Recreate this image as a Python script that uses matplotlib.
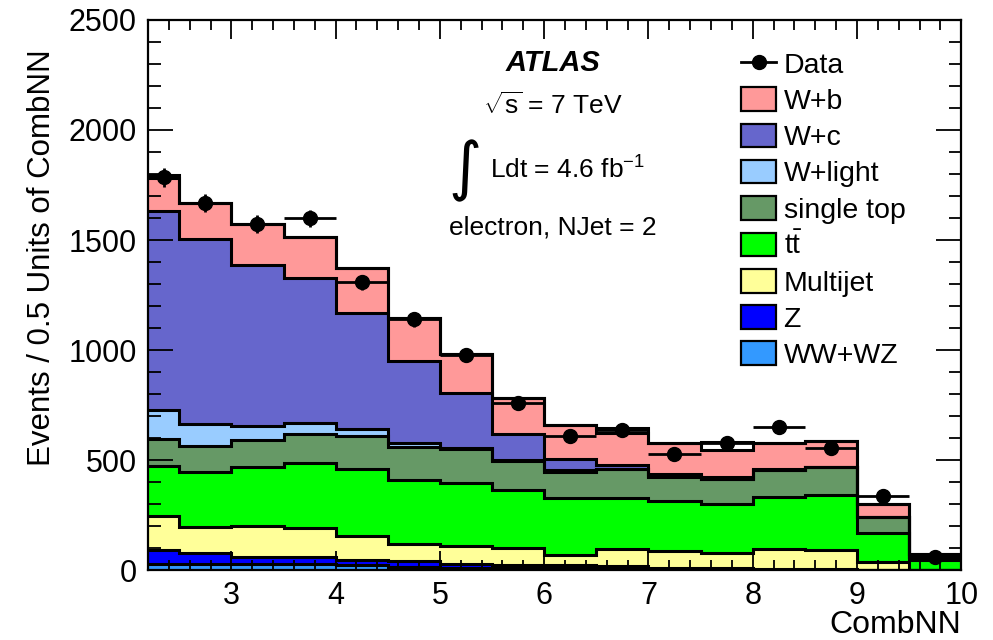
import numpy as np
from matplotlib import pyplot as plt
from matplotlib.lines import Line2D
from matplotlib.patches import Patch
from matplotlib.ticker import MultipleLocator

plt.rcParams['font.family'] = ['Liberation Sans', 'DejaVu Sans']
plt.rcParams['mathtext.fontset'] = 'custom'
plt.rcParams['mathtext.rm'] = 'Liberation Sans'
plt.rcParams['mathtext.it'] = 'Liberation Sans:italic'
plt.rcParams['mathtext.bf'] = 'Liberation Sans:bold'

# CombNN bin edges (first bin clipped at 2.2)
edges = [2.2, 2.5, 3.0, 3.5, 4.0, 4.5, 5.0, 5.5, 6.0, 6.5, 7.0, 7.5, 8.0, 8.5, 9.0, 9.5, 10.0]

# samples, bottom of the stack first
ww_wz = [30, 30, 28, 27, 23, 15, 12, 10, 8, 6, 5, 4, 3, 3, 2, 0]
z_jets = [61, 49, 32, 33, 25, 26, 18, 16, 15, 12, 7, 4, 3, 2, 1, 0]
multijet = [154, 118, 142, 134, 109, 79, 82, 74, 47, 80, 74, 70, 92, 85, 35, 1]
ttbar = [228, 250, 265, 291, 305, 289, 286, 264, 256, 232, 229, 225, 235, 254, 133, 44]
single_top = [125, 118, 124, 136, 147, 152, 152, 133, 118, 128, 109, 111, 122, 123, 71, 13]
w_light = [132, 99, 65, 50, 32, 18, 5, 5, 11, 2, 2, 2, 1, 1, 0, 1]
w_c = [902, 839, 730, 655, 526, 371, 248, 115, 50, 17, 10, 8, 2, 1, 1, 1]
w_b = [148, 167, 187, 186, 204, 194, 177, 166, 154, 147, 140, 121, 122, 119, 60, 16]

# total prediction outline
mc_total = [1795, 1670, 1573, 1512, 1371, 1144, 980, 783, 659, 644, 576, 583, 580, 588, 303, 76]

data = [1785, 1670, 1573, 1598, 1307, 1141, 977, 758, 611, 639, 527, 576, 652, 553, 338, 60]
data_err = [42, 41, 40, 40, 36, 34, 31, 28, 25, 25, 23, 24, 26, 24, 18, 8]

samples = [
    ("W+b", w_b, "#ff9999"),
    ("W+c", w_c, "#6666cc"),
    ("W+light", w_light, "#99ccff"),
    ("single top", single_top, "#669966"),
    (r"$\mathrm{t\bar{t}}$", ttbar, "#00ff00"),
    ("Multijet", multijet, "#ffff99"),
    ("Z", z_jets, "#0000ff"),
    ("WW+WZ", ww_wz, "#3399ff"),
]

fig = plt.figure(figsize=(9.93, 6.4), dpi=100)
ax = fig.add_axes([0.149, 0.109, 0.819, 0.860])

edges = np.array(edges)
centers = 0.5 * (edges[:-1] + edges[1:])
half = 0.5 * np.diff(edges)

ax.stairs(mc_total, edges, baseline=None, color="black", lw=2.2, zorder=1.2)

# cumulative stack, drawn from the top down like ROOT does
heights = [np.array(v, dtype=float) for _, v, _ in samples]
cum = [sum(heights[i:]) for i in range(len(heights))]
for (name, vals, col), top in zip(samples, cum):
    ax.stairs(top, edges, baseline=0, fill=True, facecolor=col, edgecolor="none", zorder=1)
    ax.stairs(top, edges, baseline=None, color="black", lw=2.2, zorder=1.3)

ax.errorbar(centers, data, xerr=half, yerr=data_err, fmt="o", color="black",
            markersize=10, elinewidth=2.0, capsize=0, zorder=3)

ax.set_xlim(2.2, 10)
ax.set_ylim(0, 2500)
ax.xaxis.set_major_locator(MultipleLocator(1))
ax.xaxis.set_minor_locator(MultipleLocator(0.2))
ax.yaxis.set_major_locator(MultipleLocator(500))
ax.yaxis.set_minor_locator(MultipleLocator(100))
ax.set_axisbelow(False)
ax.tick_params(which="both", direction="in", top=True, right=True, width=1.3, labelsize=22)
ax.tick_params(axis="y", which="major", length=18, pad=8)
ax.tick_params(axis="y", which="minor", length=9)
ax.tick_params(axis="x", which="major", length=14, pad=8)
ax.tick_params(axis="x", which="minor", length=7)
for s in ax.spines.values():
    s.set_linewidth(1.6)

fig.text(0.042, 0.598, "Events / 0.5 Units of CombNN", rotation=90,
         ha="center", va="center", fontsize=22.5)
fig.text(0.968, 0.023, "CombNN", ha="right", va="center", fontsize=23)

ax.text(0.498, 0.922, "ATLAS", transform=ax.transAxes, ha="center", va="center",
        fontsize=21, fontweight="bold", fontstyle="italic")
ax.text(0.498, 0.845, r"$\sqrt{\mathrm{s}}$ = 7 TeV", transform=ax.transAxes,
        ha="center", va="center", fontsize=19)
ax.text(0.390, 0.725, "\u222b", transform=ax.transAxes, ha="center", va="center",
        fontsize=46, family="DejaVu Sans")
ax.text(0.421, 0.727, r"Ldt = 4.6 fb$^{\mathrm{-1}}$", transform=ax.transAxes,
        ha="left", va="center", fontsize=19)
ax.text(0.498, 0.622, "electron, NJet = 2", transform=ax.transAxes,
        ha="center", va="center", fontsize=19)

handles = [Line2D([], [], color="black", marker="o", markersize=10, lw=2.0)]
labels = ["Data"]
for name, vals, col in samples:
    handles.append(Patch(facecolor=col, edgecolor="black", lw=1.6))
    labels.append(name)
ax.legend(handles, labels, loc="upper left", bbox_to_anchor=(0.729, 0.943),
          frameon=False, fontsize=20.5, handlelength=1.25, handleheight=0.9,
          handletextpad=0.25, labelspacing=0.3, borderpad=0, borderaxespad=0)

fig.savefig("out.png", dpi=100)
